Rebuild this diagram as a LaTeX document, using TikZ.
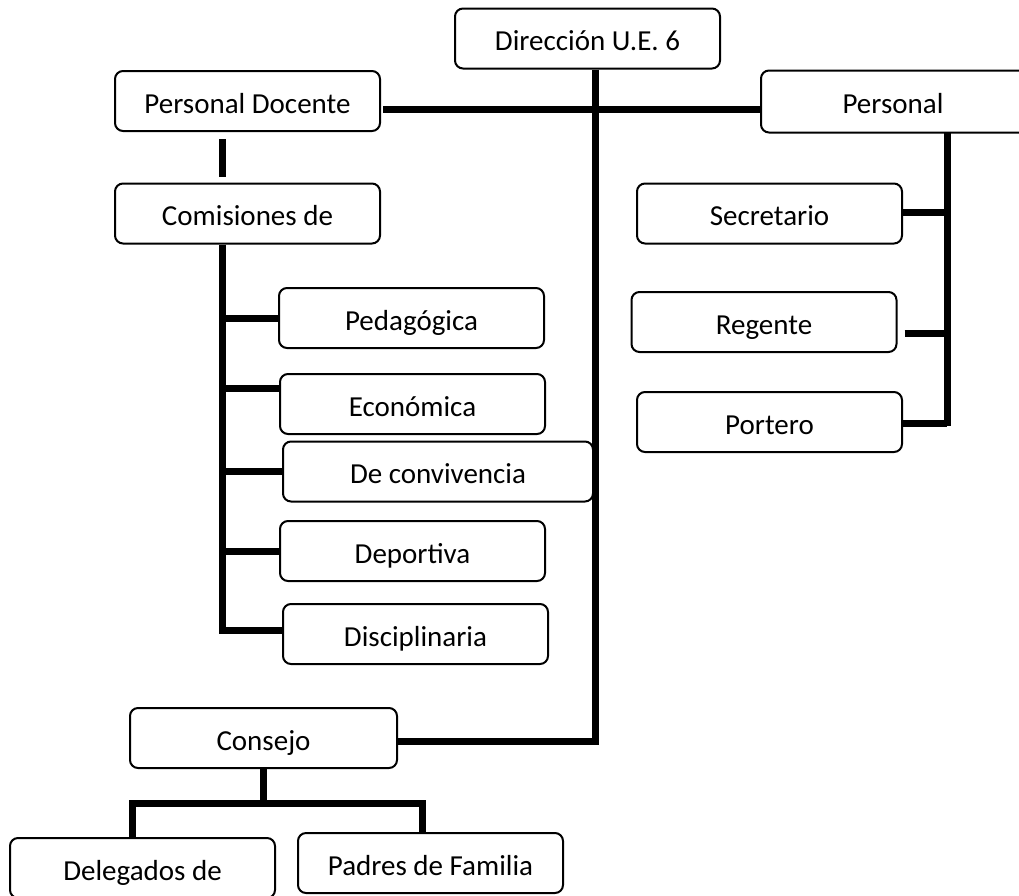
\documentclass[tikz,border=0pt]{standalone}
\usepackage{fontspec}
\setmainfont{Carlito}
\usetikzlibrary{positioning}

\begin{document}
\begin{tikzpicture}[x=1pt, y=-1pt,
	caja/.style={draw, line width=2pt, rounded corners=8pt, minimum width=265pt,
		minimum height=60pt, inner sep=0pt, text height=24pt, text depth=0pt,
		font=\fontsize{29}{34}\selectfont},
	linea/.style={line width=7pt}]
	\clip (0,0) rectangle (1019,895);
	
	% Boxes
	\node[caja] (dir) at (587.5,38.5) {Dirección U.E. 6};
	\node[caja] (pdoc) at (247.5,101) {Personal Docente};
	\node[caja, draw=none, minimum width=262pt] (pers) at (893,101.5) {Personal};
	\draw[line width=2pt, rounded corners=8pt] (pers.south west) rectangle ([xshift=30pt]pers.north east);
	\node[caja] (com) at (247.5,213.5) {Comisiones de};
	\node[caja] (sec) at (769.5,213.5) {Secretario};
	\node[caja] (reg) at (764,322) {Regente};
	\node[caja] (por) at (769.5,422) {Portero};
	\node[caja] (ped) at (411.5,318) {Pedagógica};
	\node[caja] (eco) at (412.5,404) {Económica};
	\node[caja, minimum width=310pt] (conv) at (438,471.5) {De convivencia};
	\node[caja] (dep) at (412.5,551) {Deportiva};
	\node[caja] (dis) at (415.5,634) {Disciplinaria};
	\node[caja, minimum width=267pt] (cons) at (263.5,738) {Consejo};
	\node[caja] (del) at (142.5,868) {Delegados de};
	\node[caja] (pad) at (430.5,863) {Padres de Familia};
	
	% Points where the lines turn
	\coordinate (tronco) at (595,741);
	\coordinate (barra) at (595,109);
	\coordinate (eje1) at (222.5,634);
	\coordinate (eje2) at (947,426);
	\coordinate (eje3) at (263,803);
	\coordinate (izq) at (132,803);
	\coordinate (der) at (422,803);
	
	% Main trunk down to Consejo, and the bar across
	\draw[linea] (dir.south -| tronco) -- (tronco) -- (cons.east |- tronco);
	\draw[linea, shorten <=2pt] (pdoc.east |- barra) -- (pers.west |- barra);
	
	% Personal Docente and its comisiones
	\draw[linea, shorten <=7pt, shorten >=6pt] (pdoc.south -| eje1) -- (com.north -| eje1);
	\draw[linea] (com.south -| eje1) -- (eje1);
	\foreach \n/\d in {ped/0, eco/16, conv/0, dep/0, dis/4}
		\draw[linea] ([yshift=\d pt]\n.west) -- ([yshift=\d pt]\n.west -| eje1);
	
	% Personal
	\draw[linea] (pers.south -| eje2) -- (eje2);
	\foreach \n/\d in {sec/1.5, por/-1}
		\draw[linea] ([yshift=\d pt]\n.east) -- ([yshift=\d pt]\n.east -| eje2);
	\draw[linea, shorten <=7pt] ([yshift=-11pt]reg.east) -- ([yshift=-11pt]reg.east -| eje2);
	
	% Consejo
	\draw[linea] (cons.south -| eje3) -- (eje3);
	\draw[linea] (del.north -| izq) -- (izq) -- (der) -- (pad.north -| der);
\end{tikzpicture}
\end{document}
